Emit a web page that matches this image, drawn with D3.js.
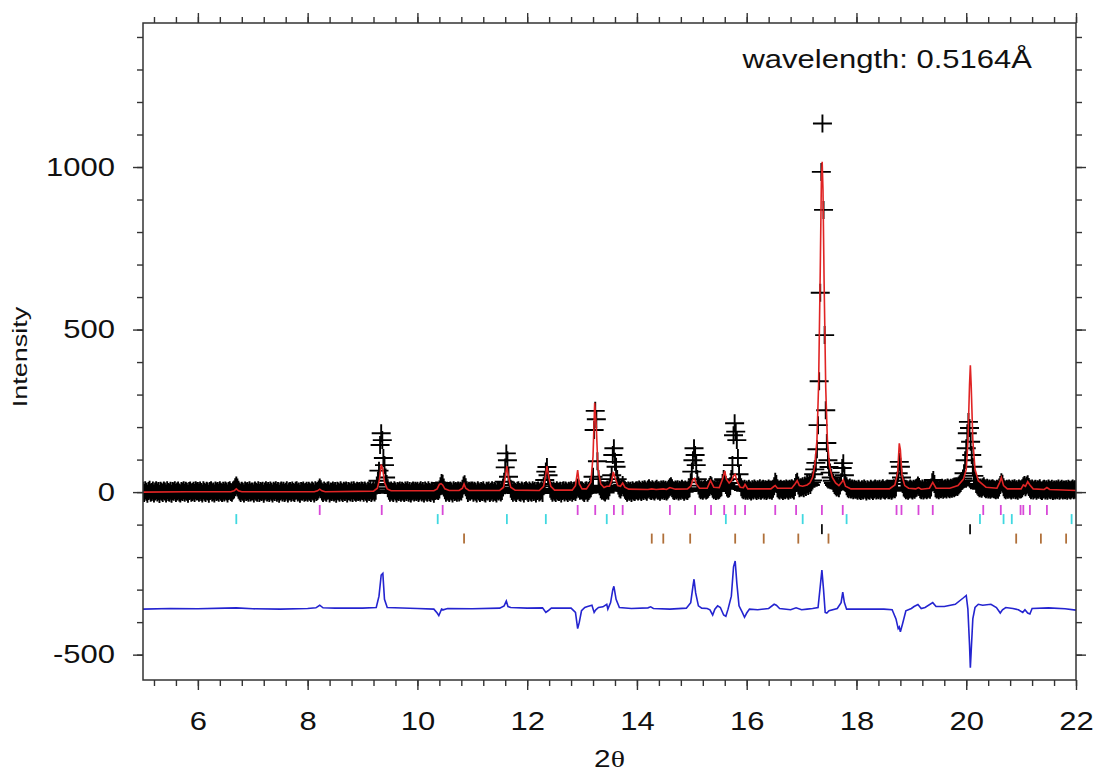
<!DOCTYPE html>
<html>
<head>
<meta charset="utf-8">
<script src="https://cdn.jsdelivr.net/npm/d3@7"></script>
<style>
  body { margin: 0; background: #fff; }
  svg text { font-family: "Liberation Sans", Arial, Helvetica, sans-serif; fill: #111; }
</style>
</head>
<body>
<svg id="chart" width="1102" height="774"></svg>
<script>
// observed intensities, one array per degree, step 0.02 deg
const obsStart = 5, obsStep = 0.02;
const obs5 = [4,-3,6,1,-5,3,7,-2,0,5, -4,2,6,-1,3,-6,4,1,-3,5, 2,-4,6,0,-2,4,-5,3,1,6, -3,2,5,-1,-4,3,0,6,-2,4, 1,-5,3,5,-2,0,4,-3,6,2];
const obs6 = [3,-2,5,0,-4,6,1,-3,4,2, -5,3,6,-1,2,-4,5,0,3,-2, 6,1,-3,4,-1,5,2,-4,3,6, 0,-2,5,8,15,20,14,7,2,-3, 4,1,-4,5,0,3,-2,6,-1,2];
const obs7 = [2,-4,5,1,-2,6,-3,3,0,4, -5,2,6,-1,3,-3,5,1,-4,4, 0,6,-2,3,-5,2,5,-1,4,-3, 1,6,-4,2,3,-2,5,0,-3,4, 6,-1,2,-5,3,1,5,-2,0,4];
const obs8 = [-2,4,1,-3,5,2,-4,6,0,3, 8,14,9,2,-3,5,1,-2,4,6, -4,2,0,5,-1,3,-5,4,2,-2, 6,1,-3,4,0,5,-4,3,2,-1, 5,-3,6,1,-2,4,0,3,-1,5];
const obs9 = [3,-2,5,1,-4,4,0,6,-3,2, 5,-1,4,20,35,66,145,181,160,105, 83,45,25,12,4,-2,5,1,-3,6, 2,-4,3,0,5,-2,4,1,-3,5, 0,6,-2,3,-4,2,5,-1,4,0];
const obs10 = [4,-3,2,6,-1,3,-4,5,1,-2, 6,0,-3,4,2,-5,3,5,5,3, 8,18,28,26,14,6,-2,4,1,-3, 5,2,-4,6,0,3,-2,5,-1,4, 2,10,20,24,15,6,-3,4,1,5];
const obs11 = [5,-2,4,1,-4,6,2,-3,3,0, 6,-1,-4,4,2,5,-3,1,6,-2, 3,0,-4,5,2,6,-1,3,14,32, 76,119,98,47,22,10,3,-2,5,1, -3,4,6,0,-2,5,2,-4,3,6];
const obs12 = [2,-3,5,1,-2,6,0,4,-4,3, 5,-1,2,6,-3,18,37,63,77,52, 25,10,4,-2,5,1,-3,6,2,0, 4,-4,3,6,-1,5,2,-3,4,1, 6,-2,3,5,0,8,14,10,4,6];
const obs13 = [5,1,-3,4,6,-2,3,8,12,20, 47,191,250,224,95,40,18,9,4,6, 2,-1,5,8,4,15,30,52,114,135, 93,78,40,20,12,8,15,22,14,7, 3,-2,5,1,4,-3,6,2,0,5];
const obs14 = [6,2,8,4,0,7,3,9,5,1, 8,12,6,3,9,5,2,7,10,4, 6,1,8,5,9,3,7,2,6,10, 15,18,12,6,3,8,5,9,2,7, 4,10,6,1,8,5,3,9,12,30];
const obs15 = [63,98,135,114,83,40,20,10,6,9, 4,8,11,5,7,10,16,22,18,10, 6,9,3,8,5,7,12,15,28,40, 36,22,14,10,12,18,40,83,175,212, 186,160,105,55,28,15,9,6,10,4];
const obs16 = [8,4,10,6,2,9,5,11,7,3, 9,6,12,4,8,10,5,9,3,7, 11,6,8,4,10,18,32,25,12,8, 5,10,7,3,9,6,11,8,4,10, 7,12,9,5,16,28,32,20,12,15];
const obs17 = [14,18,12,20,16,24,19,28,22,30, 36,55,70,90,132,206,341,613,985,1134, 868,483,252,151,98,77,60,45,35,28, 22,18,14,17,12,20,30,74,89,52, 28,18,12,9,14,8,11,6,10,7];
const obs18 = [8,4,10,6,3,9,5,11,7,2, 9,6,4,10,7,3,8,11,5,9, 6,10,4,8,12,7,5,9,11,6, 6,10,4,8,12,9,14,35,58,93, 78,45,25,14,10,6,9,4,8,11];
const obs19 = [8,5,10,7,12,14,20,16,9,6, 11,5,8,10,6,9,12,7,14,30, 37,25,12,8,10,6,11,9,13,7, 10,12,8,14,11,9,13,10,15,12, 15,18,16,20,24,28,34,42,58,98];
const obs20 = [135,181,216,197,155,114,78,50,35,25, 20,16,12,14,10,15,18,12,9,13, 8,11,7,10,12,9,8,6,10,7, 14,22,30,26,15,9,6,10,7,11, 8,5,10,7,12,6,9,4,11,8];
const obs21 = [9,12,18,22,15,20,24,16,10,6, 11,5,8,10,4,9,7,12,6,3, 8,10,5,9,4,11,7,6,10,3, 8,5,9,6,11,4,7,10,5,8, 6,9,4,10,7,5,8,11,6,9,7];
const obsSegments = [obs5, obs6, obs7, obs8, obs9, obs10, obs11, obs12, obs13,
                     obs14, obs15, obs16, obs17, obs18, obs19, obs20, obs21];

// calculated profile [2theta, intensity]
const calcPts = [
  [5,0],[5.8,1],[6.6,1],[6.66,4],[6.7,10],[6.74,4],[6.8,1],[7.5,1],[8.12,1],[8.18,4],[8.22,9],[8.26,4],[8.32,1],
  [9.2,3],[9.27,12],[9.31,40],[9.34,85],[9.37,70],[9.4,30],[9.45,10],[9.52,4],
  [10.3,4],[10.36,10],[10.4,24],[10.43,26],[10.46,22],[10.5,10],[10.58,5],
  [10.76,5],[10.82,12],[10.85,25],[10.88,12],[10.94,5],
  [11.5,5],[11.57,15],[11.6,45],[11.63,80],[11.66,45],[11.7,15],[11.78,6],
  [12.22,5],[12.3,18],[12.34,55],[12.36,80],[12.39,50],[12.43,18],[12.5,6],
  [12.82,6],[12.88,20],[12.92,68],[12.95,25],[13,10],
  [13.08,10],[13.16,30],[13.2,110],[13.23,275],[13.26,200],[13.29,70],[13.34,25],[13.4,14],[13.45,18],
  [13.5,18],[13.54,35],[13.57,62],[13.6,45],[13.65,20],[13.7,18],[13.74,28],[13.78,15],[13.85,9],
  [14.2,8],[14.27,10],[14.35,8],[14.48,10],[14.54,8],[14.6,14],[14.7,9],
  [14.92,10],[14.98,18],[15.02,38],[15.05,42],[15.08,25],[15.14,12],
  [15.28,12],[15.34,35],[15.4,15],[15.5,14],[15.56,40],[15.6,65],[15.63,40],[15.68,28],
  [15.72,35],[15.76,50],[15.79,55],[15.82,35],[15.88,15],[15.94,14],[15.97,24],[16.02,10],
  [16.44,10],[16.5,18],[16.52,20],[16.56,12],[16.82,12],[16.88,25],[16.92,35],[16.96,20],
  [17.02,18],[17.1,22],[17.15,28],[17.2,45],[17.24,80],[17.28,160],[17.31,330],[17.34,680],[17.36,950],
  [17.375,1016],[17.39,930],[17.41,650],[17.44,320],[17.47,160],[17.51,80],[17.56,45],[17.62,28],
  [17.68,20],[17.73,30],[17.76,38],[17.8,18],[17.9,10],
  [18.6,10],[18.7,22],[18.75,60],[18.78,150],[18.8,130],[18.83,50],[18.88,20],[18.95,12],
  [19.08,10],[19.13,14],[19.18,9],[19.33,12],[19.39,30],[19.45,12],
  [19.7,12],[19.85,20],[19.95,40],[20,70],[20.03,150],[20.06,330],[20.075,390],[20.09,330],[20.12,160],
  [20.16,70],[20.22,35],[20.31,22],[20.36,15],[20.56,12],[20.61,30],[20.64,45],[20.68,20],[20.75,10],
  [21,10],[21.04,22],[21.08,18],[21.12,32],[21.16,22],[21.22,10],[21.42,8],[21.47,14],[21.52,8],[22,5]
];

// difference curve [2theta, intensity]
const diffPts = [
  [5,-360],[5.5,-358],[6,-359],[6.5,-357],[6.7,-356],[7,-359],[7.5,-360],[8,-358],
  [8.15,-356],[8.22,-348],[8.28,-356],[8.5,-357],[9,-357],[9.25,-355],[9.3,-320],[9.34,-255],[9.37,-250],
  [9.4,-330],[9.45,-355],[10,-358],[10.3,-360],[10.36,-372],[10.39,-380],[10.42,-368],[10.44,-360],
  [10.47,-362],[10.55,-358],[11,-359],[11.5,-357],[11.58,-350],[11.62,-335],[11.65,-352],[11.7,-355],
  [12,-357],[12.28,-356],[12.34,-370],[12.38,-365],[12.44,-357],[12.8,-357],[12.88,-370],[12.92,-420],
  [12.95,-400],[12.99,-365],[13.05,-355],[13.1,-352],[13.18,-348],[13.22,-370],[13.25,-362],[13.3,-355],
  [13.38,-353],[13.45,-345],[13.47,-360],[13.52,-340],[13.56,-300],[13.58,-290],[13.62,-330],[13.68,-355],
  [13.9,-358],[14.2,-356],[14.25,-353],[14.3,-358],[14.6,-360],[14.9,-357],[14.98,-340],[15.02,-290],
  [15.04,-268],[15.07,-310],[15.12,-350],[15.18,-357],[15.28,-358],[15.33,-362],[15.38,-378],[15.42,-360],
  [15.47,-350],[15.52,-355],[15.58,-378],[15.62,-382],[15.66,-360],[15.72,-320],[15.76,-230],[15.79,-212],
  [15.82,-280],[15.86,-350],[15.92,-370],[15.96,-385],[16,-372],[16.05,-360],[16.2,-362],[16.4,-358],
  [16.5,-345],[16.54,-348],[16.6,-358],[16.8,-362],[16.9,-356],[17,-362],[17.1,-360],[17.2,-358],
  [17.3,-355],[17.34,-290],[17.37,-240],[17.4,-300],[17.43,-370],[17.46,-372],[17.5,-365],[17.65,-358],
  [17.72,-340],[17.75,-308],[17.78,-340],[17.82,-360],[18,-360],[18.5,-360],[18.65,-362],[18.72,-390],
  [18.76,-420],[18.78,-415],[18.8,-430],[18.84,-405],[18.9,-365],[19,-358],[19.05,-352],[19.12,-346],
  [19.18,-358],[19.25,-355],[19.39,-340],[19.45,-352],[19.6,-352],[19.8,-345],[19.95,-325],[20,-318],
  [20.03,-360],[20.06,-470],[20.075,-540],[20.09,-490],[20.12,-390],[20.16,-355],[20.22,-345],[20.3,-348],
  [20.45,-345],[20.55,-355],[20.62,-372],[20.66,-362],[20.72,-355],[20.85,-358],[20.95,-362],[21.03,-370],
  [21.07,-362],[21.12,-372],[21.16,-375],[21.2,-358],[21.5,-356],[21.8,-359],[22,-363]
];

// reflection positions per phase
const phaseMagenta = [8.22,9.35,10.46,12.92,13.24,13.58,13.74,14.60,15.06,15.35,15.59,15.79,15.97,16.52,
                      16.90,17.37,17.75,18.73,18.82,19.13,19.39,20.31,20.63,20.99,21.04,21.16,21.47];
const phaseCyan = [6.70,10.37,11.63,12.34,13.45,15.62,17.02,17.82,20.25,20.68,20.83,21.92];
const phaseBlack = [17.37,20.07];
const phaseBrown = [10.85,14.27,14.48,14.97,15.79,16.31,16.94,17.49,20.91,21.36,21.82];

const xMajorTicks = [6,8,10,12,14,16,18,20,22];
const yMajorTicks = [-500,0,500,1000];

const svg = d3.select("#chart"),
      width = +svg.attr("width"),
      height = +svg.attr("height"),
      margin = { top: 23, right: 26, bottom: 94, left: 143 };

const x = d3.scaleLinear().domain([5, 22]).range([margin.left, width - margin.right]);
const y = d3.scaleLinear().domain([-578, 1443]).range([height - margin.bottom, margin.top]);
const stretch = 1.24; // glyphs in the picture are wider than the font

svg.append("clipPath").attr("id", "plotClip")
   .append("rect")
   .attr("x", margin.left).attr("y", margin.top)
   .attr("width", width - margin.left - margin.right)
   .attr("height", height - margin.top - margin.bottom);

const plot = svg.append("g").attr("clip-path", "url(#plotClip)");

// observed points as crosses
const obs = obsSegments.flat().map((v, i) => [obsStart + i * obsStep, v]);
plot.append("path")
    .attr("d", obs.map(d => `M${x(d[0]) - 9.5},${y(d[1])}h19M${x(d[0])},${y(d[1]) - 9}v18`).join(""))
    .attr("stroke", "#000")
    .attr("stroke-width", 1.9)
    .attr("fill", "none");

const line = d3.line().x(d => x(d[0])).y(d => y(d[1]));

plot.append("path")
    .datum(calcPts)
    .attr("d", line)
    .attr("fill", "none")
    .attr("stroke", "#e02424")
    .attr("stroke-width", 1.6);

plot.append("path")
    .datum(diffPts)
    .attr("d", line)
    .attr("fill", "none")
    .attr("stroke", "#2424d0")
    .attr("stroke-width", 1.6);

// reflection markers, one row per phase
const rows = [
  { pos: phaseMagenta, level: -55, color: "#d848d8" },
  { pos: phaseCyan, level: -83, color: "#40d8e0" },
  { pos: phaseBlack, level: -114, color: "#111" },
  { pos: phaseBrown, level: -143, color: "#b0703a" }
];
rows.forEach(r => {
  plot.selectAll(null)
      .data(r.pos)
      .enter().append("line")
      .attr("x1", d => x(d)).attr("x2", d => x(d))
      .attr("y1", y(r.level) - 5).attr("y2", y(r.level) + 5)
      .attr("stroke", r.color)
      .attr("stroke-width", 1.8);
});

// frame
svg.append("rect")
   .attr("x", margin.left).attr("y", margin.top)
   .attr("width", width - margin.left - margin.right)
   .attr("height", height - margin.top - margin.bottom)
   .attr("fill", "none")
   .attr("stroke", "#333")
   .attr("stroke-width", 1.5);

const xMinor = d3.range(13, 56).map(i => +(i * 0.4).toFixed(1));
const yMinor = d3.range(-5, 15).map(i => i * 100);

function ticks(axis, values, size, transform) {
  const g = svg.append("g")
     .attr("transform", transform)
     .call(axis.tickValues(values).tickSize(size).tickSizeOuter(0).tickFormat(""));
  g.select(".domain").remove();
  g.selectAll("line").attr("stroke", "#333").attr("stroke-width", 1.4);
  return g;
}

const bottomY = height - margin.bottom, rightX = width - margin.right;
ticks(d3.axisBottom(x), xMinor, 6, `translate(0,${bottomY})`);
ticks(d3.axisTop(x), xMinor, 6, `translate(0,${margin.top})`);
ticks(d3.axisTop(x), xMajorTicks, 10, `translate(0,${margin.top})`);
ticks(d3.axisLeft(y), yMinor, 6, `translate(${margin.left},0)`);
ticks(d3.axisRight(y), yMinor, 6, `translate(${rightX},0)`);
ticks(d3.axisRight(y), yMajorTicks, 10, `translate(${rightX},0)`);

const xAxis = svg.append("g")
   .attr("transform", `translate(0,${bottomY})`)
   .call(d3.axisBottom(x).tickValues(xMajorTicks).tickSize(10).tickPadding(22)
           .tickSizeOuter(0).tickFormat(d => String(d)));
xAxis.select(".domain").remove();
xAxis.selectAll("line").attr("stroke", "#333").attr("stroke-width", 1.4);
xAxis.selectAll("text")
     .attr("font-size", 25)
     .attr("transform", `scale(${stretch},1)`);
xAxis.attr("font-family", null).attr("font-size", null);

const yAxis = svg.append("g")
   .attr("transform", `translate(${margin.left},0)`)
   .call(d3.axisLeft(y).tickValues(yMajorTicks).tickSize(10)
           .tickSizeOuter(0).tickFormat(d => String(d)));
yAxis.select(".domain").remove();
yAxis.selectAll("line").attr("stroke", "#333").attr("stroke-width", 1.4);
yAxis.selectAll("text")
     .attr("x", 0)
     .attr("font-size", 25)
     .attr("transform", `translate(-28,0) scale(${stretch},1)`);
yAxis.attr("font-family", null).attr("font-size", null);

// labels
svg.append("text")
   .attr("transform", `translate(27,357) rotate(-90) scale(1.35,1)`)
   .attr("text-anchor", "middle")
   .attr("font-size", 20)
   .text("Intensity");

const xl = svg.append("text")
   .attr("transform", `translate(${(margin.left + rightX) / 2},767) scale(${stretch},1)`)
   .attr("text-anchor", "middle")
   .attr("font-size", 24);
xl.append("tspan").text("2");
xl.append("tspan").style("font-family", "'Liberation Serif', 'Times New Roman', serif").text("θ");

svg.append("text")
   .attr("transform", `translate(1032,68) scale(${stretch},1)`)
   .attr("text-anchor", "end")
   .attr("font-size", 25)
   .text("wavelength: 0.5164Å");
</script>
</body>
</html>
